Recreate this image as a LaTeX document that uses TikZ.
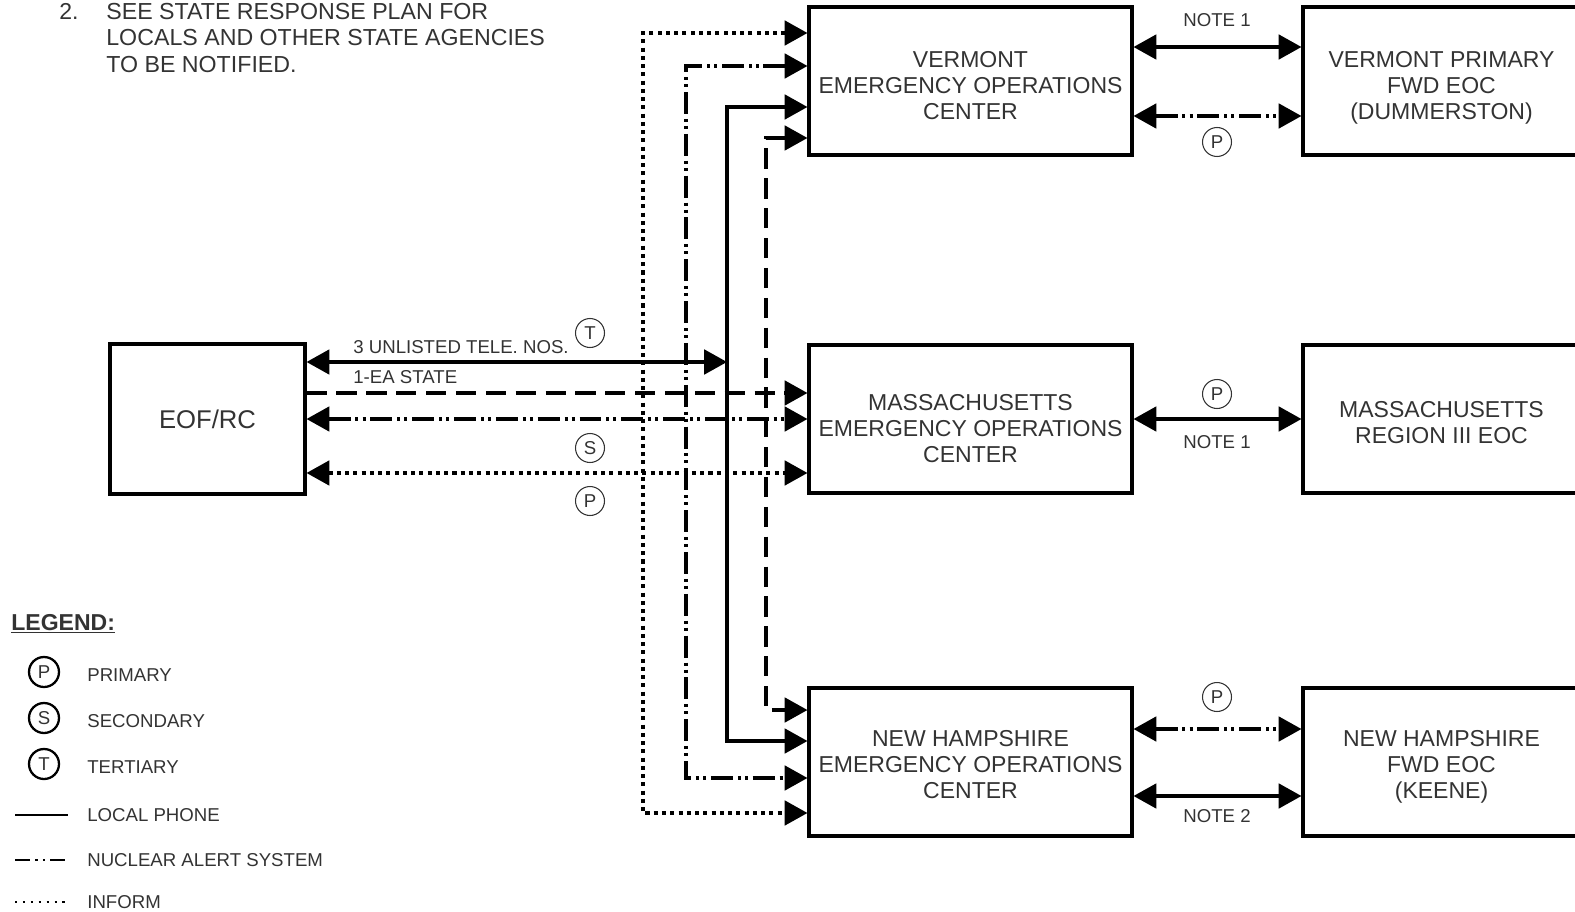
\documentclass[tikz,border=0pt]{standalone}
\usepackage{fontspec}
\setmainfont{Liberation Sans}
\usetikzlibrary{arrows.meta}
\definecolor{chartink}{HTML}{333333}
\newcommand{\boxfont}{\fontsize{13.1pt}{14.8pt}\selectfont}
\newcommand{\tagfont}{\fontsize{10.6pt}{12pt}\selectfont}
\newcommand{\eoffont}{\fontsize{14.6pt}{16pt}\selectfont}

\begin{document}
\begin{tikzpicture}[
  x=0.02cm,
  y=-0.02cm,
  every node/.style={text=chartink},
  station/.style={draw=black, line width=1.8pt, inner sep=0pt,
    minimum height=2.96cm},
  stationtext/.style={align=center, inner sep=0pt, font=\boxfont},
  link/.style={black, line width=1.8pt},
  phone/.style={link},
  nas/.style={link, dash pattern=on 12.5pt off 2.8pt on 1.7pt off 2.3pt on 1.7pt off 2.8pt},
  ealine/.style={link, dash pattern=on 11.5pt off 5.5pt},
  inform/.style={link, dash pattern=on 2.3pt off 2.4pt},
  tag/.style={circle, draw=chartink, line width=0.6pt, minimum size=0.58cm,
    inner sep=0pt, font=\tagfont},
  keytag/.style={tag, draw=black, line width=1.3pt, minimum size=0.6cm},
  note/.style={font=\tagfont, inner sep=0pt},
  keyline/.style={black, line width=1.3pt},
  >={Triangle[length=13pt, width=14pt]}
]
\clip (0,0) rectangle (1575,912);

% =====================================================================
% note 2
% =====================================================================
\node[anchor=west, inner sep=0pt, font=\boxfont] (noteNum) at (59,11) {2.};
\node[anchor=west, inner sep=0pt, align=left,
  font=\fontsize{13.2pt}{15pt}\selectfont] (noteText) at (106,38)
  {SEE STATE RESPONSE PLAN FOR\\LOCALS AND OTHER STATE AGENCIES\\TO BE NOTIFIED.};

% =====================================================================
% stations
% =====================================================================
\node[station, minimum width=3.9cm, minimum height=3cm, font=\eoffont] (eof)
  at (207.5,419) {EOF/RC};
\node[station, minimum width=6.46cm] (vtEOC) at (970.5,81) {};
\node[station, minimum width=6.46cm] (maEOC) at (970.5,419) {};
\node[station, minimum width=6.46cm] (nhEOC) at (970.5,762) {};
\node[station, minimum width=5.54cm] (vtFwd) at (1441.5,81) {};
\node[station, minimum width=5.54cm] (maReg) at (1441.5,419) {};
\node[station, minimum width=5.54cm] (nhFwd) at (1441.5,762) {};

\node[stationtext] (vtEOCText) at ([yshift=-0.1cm]vtEOC.center)
  {VERMONT\\EMERGENCY OPERATIONS\\CENTER};
\node[stationtext] (maEOCText) at ([yshift=-0.2cm]maEOC.center)
  {MASSACHUSETTS\\EMERGENCY OPERATIONS\\CENTER};
\node[stationtext] (nhEOCText) at ([yshift=-0.06cm]nhEOC.center)
  {NEW HAMPSHIRE\\EMERGENCY OPERATIONS\\CENTER};
\node[stationtext] (vtFwdText) at ([yshift=-0.14cm]vtFwd.center)
  {VERMONT PRIMARY\\FWD EOC\\(DUMMERSTON)};
\node[stationtext] (maRegText) at ([yshift=-0.08cm]maReg.center)
  {MASSACHUSETTS\\REGION III EOC};
\node[stationtext] (nhFwdText) at ([yshift=-0.1cm]nhFwd.center)
  {NEW HAMPSHIRE\\FWD EOC\\(KEENE)};

% =====================================================================
% EOF/RC links and the vertical buses
% =====================================================================
\coordinate (busInform) at (643,419);
\coordinate (busNAS) at (686,419);
\coordinate (busPhone) at (727,362);
\coordinate (busEA) at (766,393);

\draw[phone, <->] (eof.east |- busPhone) -- (busPhone);
\draw[ealine, ->] (eof.east |- busEA) -- (maEOC.west |- busEA);
\draw[nas, <->] (eof.east) -- (maEOC.west);
\draw[inform, <->] ([yshift=-1.08cm]eof.east) -- ([yshift=-1.08cm]maEOC.west);

\draw[inform, <->] ([yshift=0.96cm]vtEOC.west) -| (busInform)
  |- ([yshift=-1.02cm]nhEOC.west);
\draw[nas, <->] ([yshift=0.3cm]vtEOC.west) -| (busNAS)
  |- ([yshift=-0.32cm]nhEOC.west);
\draw[phone, <->] ([yshift=-0.52cm]vtEOC.west) -| (busPhone)
  |- ([yshift=0.42cm]nhEOC.west);
\draw[ealine, <->] ([yshift=-1.14cm]vtEOC.west) -| (busEA)
  |- ([yshift=1.04cm]nhEOC.west);

\node[note, anchor=west] (teleLabel) at (353,347) {3 UNLISTED TELE. NOS.};
\node[note, anchor=west] (eaLabel) at (353,377) {1-EA STATE};
\node[tag] (tTag) at (590,333) {T};
\node[tag] (sTag) at (590,448) {S};
\node[tag] (pTag) at (590,501) {P};

% =====================================================================
% state EOCs to forward EOCs
% =====================================================================
\draw[phone, <->] ([yshift=0.68cm]vtEOC.east) -- ([yshift=0.68cm]vtFwd.west);
\draw[nas, <->] ([yshift=-0.7cm]vtEOC.east) -- ([yshift=-0.7cm]vtFwd.west);
\draw[phone, <->] (maEOC.east) -- (maReg.west);
\draw[nas, <->] ([yshift=0.66cm]nhEOC.east) -- ([yshift=0.66cm]nhFwd.west);
\draw[phone, <->] ([yshift=-0.68cm]nhEOC.east) -- ([yshift=-0.68cm]nhFwd.west);

\node[note] (vtNote) at (1217,20) {NOTE 1};
\node[tag] (vtTag) at (1217,142) {P};
\node[tag] (maTag) at (1217,394) {P};
\node[note] (maNote) at (1217,442) {NOTE 1};
\node[tag] (nhTag) at (1217,697) {P};
\node[note] (nhNote) at (1217,816) {NOTE 2};

% =====================================================================
% legend
% =====================================================================
\node[anchor=base west, inner sep=0pt, font=\bfseries\boxfont] (legendHead)
  at (11,630) {\underline{LEGEND:}};
\node[keytag] (keyP) at (44,672) {P};
\node[keytag] (keyS) at (44,718) {S};
\node[keytag] (keyT) at (44,764) {T};
\node[note, anchor=west] (keyPText) at (87,675) {PRIMARY};
\node[note, anchor=west] (keySText) at (87,721) {SECONDARY};
\node[note, anchor=west] (keyTText) at (87,767) {TERTIARY};
\node[note, anchor=west] (keyPhone) at (87,815) {LOCAL PHONE};
\node[note, anchor=west] (keyNAS) at (87,860) {NUCLEAR ALERT SYSTEM};
\node[note, anchor=west] (keyInform) at (87,902) {INFORM};
\draw[keyline] ([xshift=-1.44cm]keyPhone.west) -- ([xshift=-0.38cm]keyPhone.west);
\draw[keyline, dash pattern=on 8.5pt off 3pt on 1.3pt off 3pt on 1.3pt off 3pt]
  ([xshift=-1.44cm]keyNAS.west) -- ([xshift=-0.38cm]keyNAS.west);
\draw[keyline, line width=1.1pt, dash pattern=on 1.2pt off 3.3pt]
  ([xshift=-1.44cm]keyInform.west) -- ([xshift=-0.38cm]keyInform.west);

\end{tikzpicture}
\end{document}
